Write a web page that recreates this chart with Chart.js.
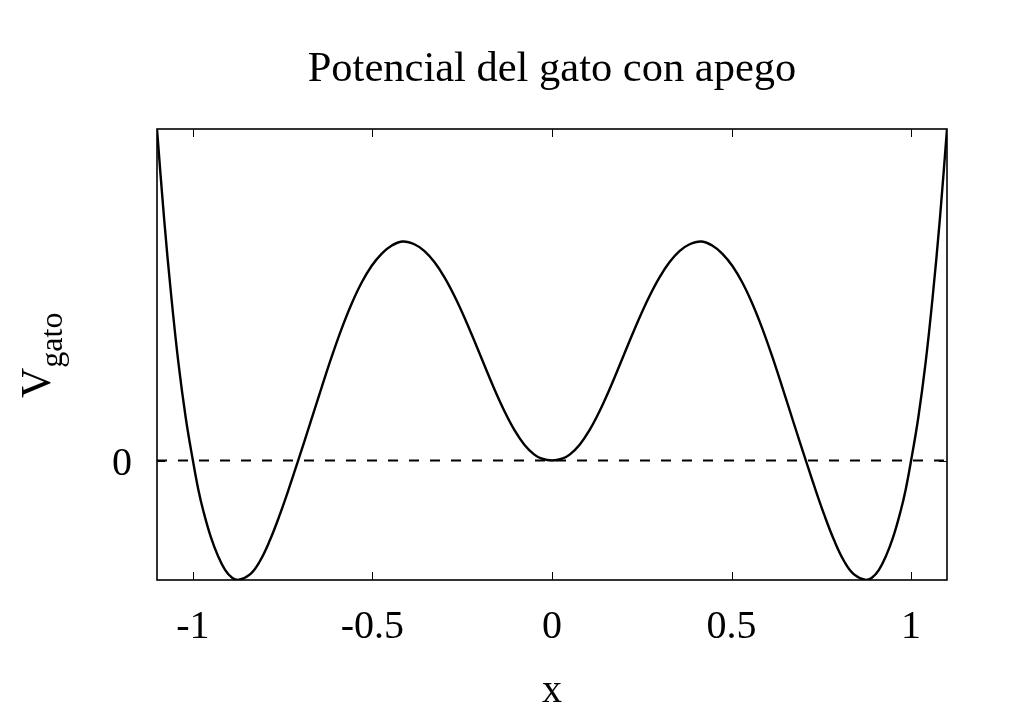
<!DOCTYPE html>
<html>
<head>
<meta charset="utf-8">
<script src="https://cdn.jsdelivr.net/npm/chart.js@4.4.1/dist/chart.umd.min.js"></script>
<style>
  html, body { margin: 0; padding: 0; background: #fff; }
  canvas { display: block; }
</style>
</head>
<body>
<canvas id="chart" width="1024" height="717"></canvas>
<script>
const chartTitle = "Potencial del gato con apego";
const xAxisLabel = "x";
const yAxisLabel = "V";
const yAxisSub = "gato";

// curve (V in arbitrary units, 0 at the dashed line)
const xValues = [
  -1.1, -1.08, -1.06, -1.04, -1.02, -1.0, -0.985, -0.97, -0.95, -0.93, -0.91, -0.89,
  -0.874, -0.841, -0.814, -0.786, -0.758, -0.73, -0.707, -0.674, -0.641, -0.613,
  -0.586, -0.558, -0.53, -0.502, -0.474, -0.446, -0.415, -0.382, -0.355, -0.327,
  -0.299, -0.271, -0.243, -0.216, -0.188, -0.16, -0.132, -0.104, -0.077, -0.05, -0.03,
  0,
  0.03, 0.05, 0.077, 0.104, 0.132, 0.16, 0.188, 0.216, 0.243, 0.271, 0.299, 0.327,
  0.355, 0.382, 0.415, 0.446, 0.474, 0.502, 0.53, 0.558, 0.586, 0.613, 0.641, 0.674,
  0.707, 0.73, 0.758, 0.786, 0.814, 0.841, 0.874, 0.89, 0.91, 0.93, 0.95, 0.97, 0.985,
  1.0, 1.02, 1.04, 1.06, 1.08, 1.1
];
const vValues = [
  3.33, 2.42, 1.64, 0.97, 0.43, 0, -0.29, -0.52, -0.77, -0.96, -1.10, -1.18,
  -1.20, -1.144, -1.014, -0.804, -0.544, -0.253, 0, 0.367, 0.74, 1.048,
  1.323, 1.575, 1.788, 1.956, 2.079, 2.16, 2.20, 2.17, 2.104, 1.992,
  1.838, 1.648, 1.43, 1.20, 0.954, 0.713, 0.492, 0.302, 0.159, 0.062, 0.022,
  0,
  0.022, 0.062, 0.159, 0.302, 0.492, 0.713, 0.954, 1.20, 1.43, 1.648, 1.838, 1.992,
  2.104, 2.17, 2.20, 2.16, 2.079, 1.956, 1.788, 1.575, 1.323, 1.048, 0.74, 0.367,
  0, -0.253, -0.544, -0.804, -1.014, -1.144, -1.20, -1.18, -1.10, -0.96, -0.77, -0.52, -0.29,
  0, 0.43, 0.97, 1.64, 2.42, 3.33
];

const zeroLineX = [-1.1, 1.1];
const zeroLineY = [0, 0];

const xTickValues = [-1, -0.5, 0, 0.5, 1];
const xTickLabels = ["-1", "-0.5", "0", "0.5", "1"];
const yTickValues = [0];
const yTickLabels = ["0"];

const xRange = [-1.1, 1.1];
const yRange = [-1.2, 3.33];

const serif = "'Liberation Serif', 'Times New Roman', serif";

// gnuplot-style frame, inward ticks, labels
const framePlugin = {
  id: "frame",
  afterDraw(chart) {
    const { ctx, chartArea: a, scales } = chart;
    const sx = scales.x, sy = scales.y;
    ctx.save();
    ctx.strokeStyle = "#000";
    ctx.lineWidth = 1;
    ctx.beginPath();
    xTickValues.forEach((v) => {
      const px = Math.round(sx.getPixelForValue(v)) + 0.5;
      ctx.moveTo(px, a.bottom); ctx.lineTo(px, a.bottom - 8);
      ctx.moveTo(px, a.top); ctx.lineTo(px, a.top + 8);
    });
    yTickValues.forEach((v) => {
      const py = Math.round(sy.getPixelForValue(v)) + 0.5;
      ctx.moveTo(a.left, py); ctx.lineTo(a.left + 8, py);
      ctx.moveTo(a.right, py); ctx.lineTo(a.right - 8, py);
    });
    ctx.stroke();

    ctx.lineWidth = 1.6;
    ctx.strokeRect(a.left, a.top, a.right - a.left, a.bottom - a.top);

    ctx.fillStyle = "#000";
    ctx.font = "40px " + serif;
    ctx.textBaseline = "alphabetic";
    ctx.textAlign = "center";
    xTickValues.forEach((v, i) => ctx.fillText(xTickLabels[i], sx.getPixelForValue(v), a.bottom + 58));
    ctx.textAlign = "right";
    yTickValues.forEach((v, i) => ctx.fillText(yTickLabels[i], a.left - 25, sy.getPixelForValue(v) + 14));

    ctx.textAlign = "center";
    ctx.fillText(xAxisLabel, (a.left + a.right) / 2, 702);

    ctx.translate(50, 398);
    ctx.rotate(-Math.PI / 2);
    ctx.textAlign = "left";
    ctx.font = "42px " + serif;
    ctx.fillText(yAxisLabel, 0, 0);
    const w = ctx.measureText(yAxisLabel).width;
    ctx.font = "32px " + serif;
    ctx.fillText(yAxisSub, w, 12);
    ctx.restore();
  },
};

new Chart(document.getElementById("chart").getContext("2d"), {
  type: "line",
  data: {
    datasets: [
      {
        label: "V",
        data: xValues.map((x, i) => ({ x, y: vValues[i] })),
        borderColor: "#000",
        borderWidth: 2.4,
        pointRadius: 0,
        tension: 0.4,
        fill: false,
      },
      {
        label: "cero",
        data: zeroLineX.map((x, i) => ({ x, y: zeroLineY[i] })),
        borderColor: "#000",
        borderWidth: 2,
        borderDash: [10, 11],
        pointRadius: 0,
        fill: false,
      },
    ],
  },
  options: {
    responsive: false,
    animation: false,
    devicePixelRatio: 1,
    layout: { padding: { left: 157, right: 77, top: 0, bottom: 0 } },
    plugins: {
      legend: { display: false },
      tooltip: { enabled: false },
      title: {
        display: true,
        text: chartTitle,
        color: "#000",
        font: { family: serif, size: 42.5, weight: "normal" },
        padding: { top: 44, bottom: 34 },
      },
    },
    scales: {
      x: {
        type: "linear",
        min: xRange[0],
        max: xRange[1],
        ticks: { display: false },
        grid: { display: false },
        border: { display: false },
        afterFit: (s) => { s.height = 137; },
      },
      y: {
        type: "linear",
        min: yRange[0],
        max: yRange[1],
        ticks: { display: false },
        grid: { display: false },
        border: { display: false },
        afterFit: (s) => { s.width = 0; },
      },
    },
  },
  plugins: [framePlugin],
});
</script>
</body>
</html>
